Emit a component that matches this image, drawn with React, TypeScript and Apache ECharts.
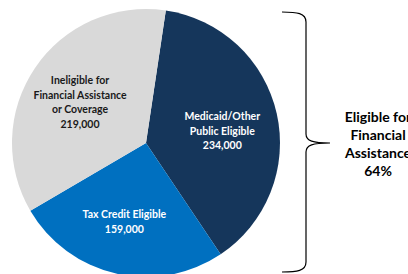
import React, { useEffect, useRef } from "react";
import * as echarts from "echarts";

const categories = [
  "Medicaid/Other\nPublic Eligible",
  "Tax Credit Eligible",
  "Ineligible for\nFinancial Assistance\nor Coverage",
];
const values = [234000, 159000, 219000];
const colors = ["#15365B", "#0070C0", "#D9D9D9"];
const labelColors = ["#FFFFFF", "#FFFFFF", "#1A1A1A"];
const labelShift = [
  [8, 3],
  [-6, 10.5],
  [-8, -2],
];
const bracketText = "Eligible for\nFinancial\nAssistance\n64%";

const bracePath =
  "M282,12 C297,12 306,13 306,22 L306,134 C306,141 313,143 330,143 C313,143 306,145 306,152 L306,262 C306,271 297,272 282,272";

let registered = false;

export default function App() {
  const ref = useRef<HTMLDivElement>(null);
  useEffect(() => {
    document.body.style.margin = "0";
    if (!registered) {
      echarts.graphic.registerShape("brace", echarts.graphic.extendPath(bracePath, {}));
      registered = true;
    }
    const chart = echarts.init(ref.current!, null, { renderer: "svg" });
    const fmt = (n: number) => n.toLocaleString("en-US");
    chart.setOption({
      animation: false,
      backgroundColor: "#FFFFFF",
      series: [
        {
          type: "pie",
          center: [146, 143],
          radius: [0, 134],
          startAngle: 81.5,
          clockwise: true,
          silent: true,
          itemStyle: { borderWidth: 0 },
          label: {
            show: true,
            position: "inside",
            fontFamily: "Lato",
            fontWeight: "bold",
            fontSize: 10.5,
            lineHeight: 14.5,
            align: "center",
            formatter: (p: any) => `${p.name}\n${fmt(p.value)}`,
          },
          labelLine: { show: false },
          labelLayout: (p: any) => ({ dx: labelShift[p.dataIndex][0], dy: labelShift[p.dataIndex][1] }),
          data: categories.map((c, i) => ({
            name: c,
            value: values[i],
            itemStyle: { color: colors[i] },
            label: { color: labelColors[i] },
          })),
        },
      ],
      graphic: [
        {
          type: "brace",
          x: 0,
          y: 0,
          style: { fill: "none", stroke: "#000000", lineWidth: 1.2 },
        },
        {
          type: "text",
          x: 378,
          y: 143,
          style: {
            text: bracketText,
            fontFamily: "Lato",
            fontWeight: "bold",
            fontSize: 14,
            lineHeight: 18,
            fill: "#000000",
            align: "center",
            verticalAlign: "middle",
          },
        },
      ],
    });
    return () => chart.dispose();
  }, []);
  return <div ref={ref} style={{ width: 408, height: 274 }} />;
}
